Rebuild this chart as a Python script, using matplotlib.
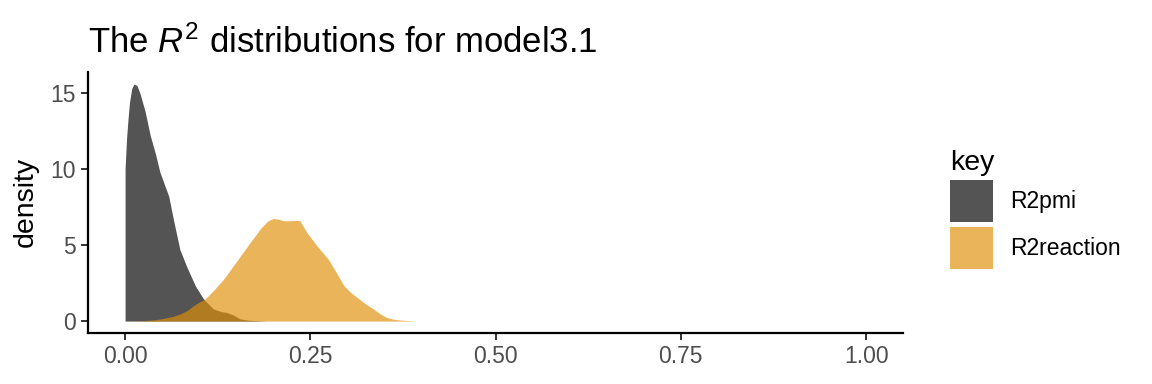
import matplotlib
matplotlib.use("Agg")
import matplotlib.pyplot as plt
from matplotlib.patches import Patch

plt.rcParams["font.family"] = ["Liberation Sans", "DejaVu Sans"]
plt.rcParams["mathtext.fontset"] = "custom"
plt.rcParams["mathtext.rm"] = "Liberation Sans"
plt.rcParams["mathtext.it"] = "Liberation Sans:italic"

# density curves
pmi_x = [0.0, 0.002, 0.004, 0.006, 0.009, 0.012, 0.016, 0.020, 0.027, 0.034,
         0.041, 0.047, 0.053, 0.059, 0.066, 0.074, 0.083, 0.095, 0.106, 0.119,
         0.130, 0.137, 0.146, 0.155, 0.166, 0.178, 0.190]
pmi_y = [10.0, 12.0, 13.3, 14.4, 15.3, 15.6, 15.5, 15.0, 13.8, 12.2,
         11.0, 9.8, 9.0, 8.2, 6.5, 4.7, 3.6, 2.3, 1.45, 0.8,
         0.62, 0.57, 0.4, 0.15, 0.06, 0.03, 0.0]

reaction_x = [0.0, 0.02, 0.04, 0.052, 0.064, 0.074, 0.084, 0.092, 0.100, 0.108,
              0.120, 0.133, 0.151, 0.169, 0.184, 0.193, 0.200, 0.207, 0.214, 0.222,
              0.230, 0.236, 0.245, 0.259, 0.274, 0.285, 0.295, 0.304, 0.313, 0.324,
              0.335, 0.345, 0.353, 0.362, 0.371, 0.383, 0.394]
reaction_y = [0.0, 0.02, 0.08, 0.18, 0.3, 0.46, 0.7, 1.0, 1.25, 1.45,
              2.05, 2.76, 3.97, 5.18, 6.16, 6.6, 6.75, 6.7, 6.6, 6.6,
              6.62, 6.6, 5.85, 4.95, 4.08, 3.2, 2.35, 1.9, 1.56, 1.15,
              0.8, 0.45, 0.24, 0.12, 0.07, 0.03, 0.0]

keys = ["R2pmi", "R2reaction"]
colors = ["#000000", "#E08F09"]
alphas = [0.67, 0.67]

x_ticks = [0.0, 0.25, 0.5, 0.75, 1.0]
y_ticks = [0, 5, 10, 15]

fig = plt.figure(figsize=(11.52, 3.84), dpi=100)
ax = fig.add_axes([0.0764, 0.133, 0.7076, 0.68])

ax.fill_between(pmi_x, pmi_y, 0, color=colors[0], alpha=alphas[0], linewidth=0)
ax.fill_between(reaction_x, reaction_y, 0, color=colors[1], alpha=alphas[1], linewidth=0)

ax.set_xlim(-0.05, 1.05)
ax.set_ylim(-0.78, 16.4)
ax.set_xticks(x_ticks)
ax.set_xticklabels([f"{t:.2f}" for t in x_ticks])
ax.set_yticks(y_ticks)

for side in ["top", "right"]:
    ax.spines[side].set_visible(False)
for side in ["left", "bottom"]:
    ax.spines[side].set_linewidth(1.6)
    ax.spines[side].set_color("black")
ax.tick_params(axis="both", length=5, width=1.4, color="#333333",
               labelsize=16.5, labelcolor="#4d4d4d", pad=4)

ax.set_ylabel("density", fontsize=20.5, color="black", labelpad=8)
ax.set_title("The $R^2$ distributions for model3.1", fontsize=25, loc="left",
             pad=14, color="black")

handles = [Patch(facecolor=c, alpha=a, edgecolor="none") for c, a in zip(colors, alphas)]
leg = ax.legend(handles, keys, title="key", loc="upper left",
                bbox_to_anchor=(0.825, 0.61), bbox_transform=fig.transFigure,
                frameon=False, fontsize=16.5, title_fontsize=20.5,
                handlelength=1.88, handleheight=2.44, labelspacing=0.2,
                handletextpad=0.72, borderaxespad=0, borderpad=0,
                alignment="left")

fig.savefig("out.png", dpi=100)
